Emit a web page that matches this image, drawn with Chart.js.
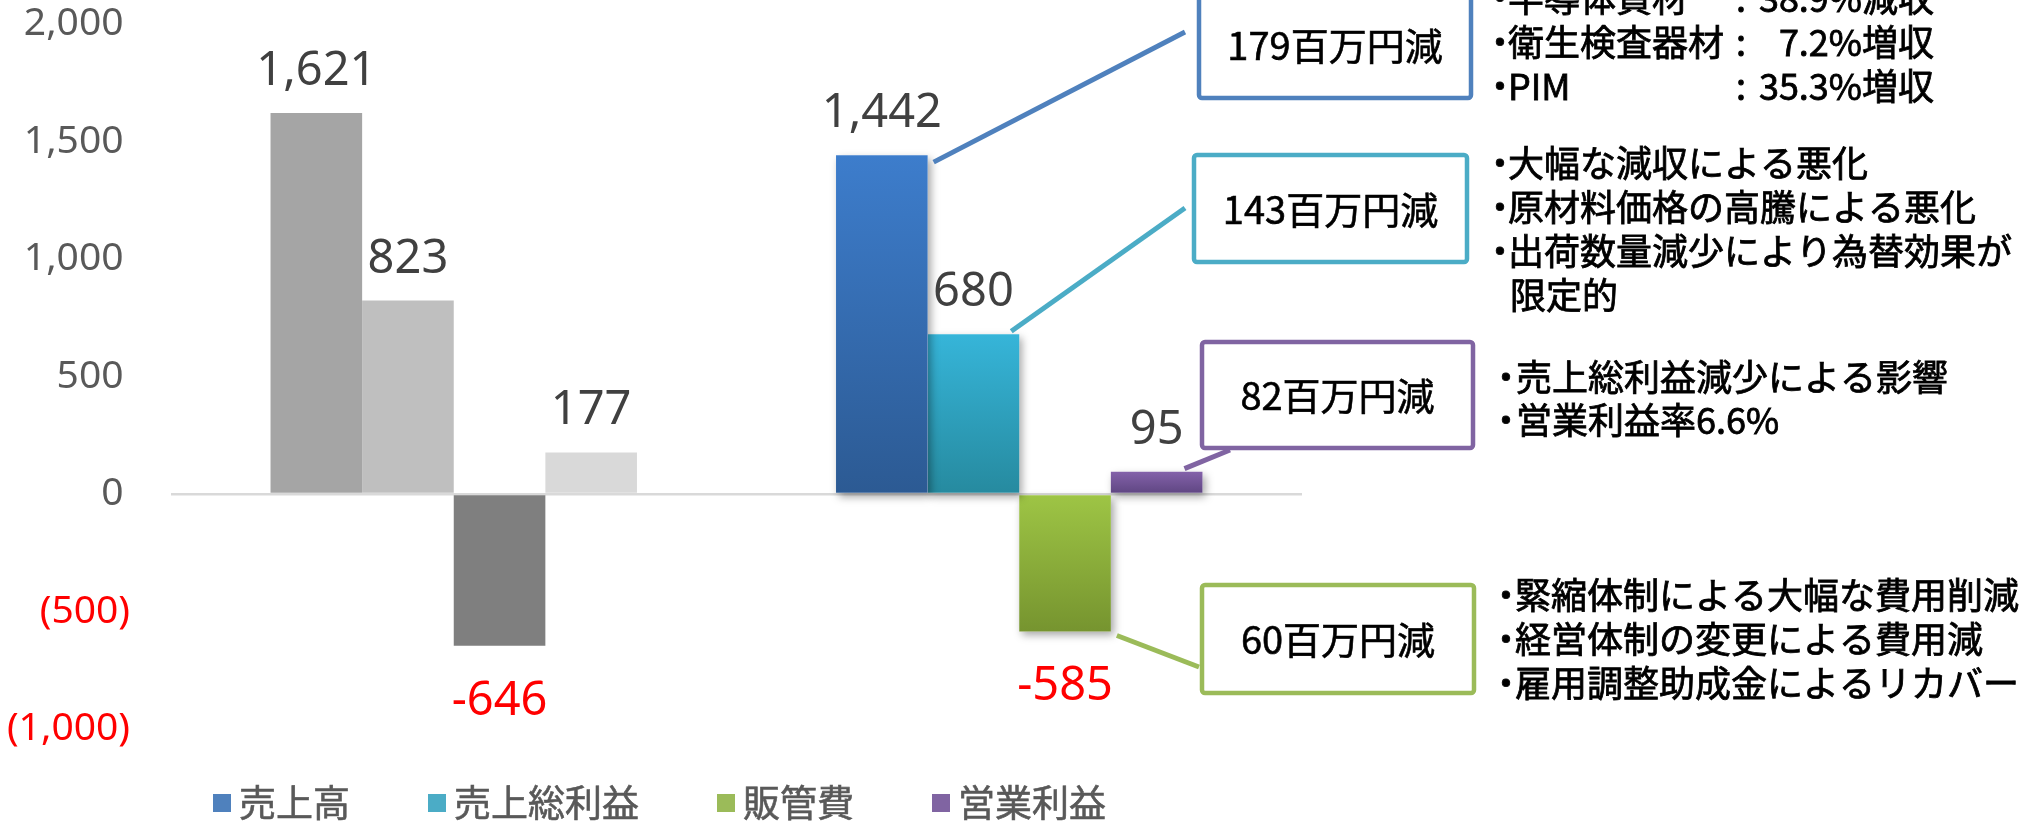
<!DOCTYPE html>
<html>
<head>
<meta charset="utf-8">
<script src="https://cdn.jsdelivr.net/npm/chart.js@4.4.1/dist/chart.umd.min.js"></script>
<style>
html, body { margin: 0; padding: 0; background: #fff; }
</style>
</head>
<body>
<canvas id="myChart" width="2029" height="822"></canvas>
<script>
// データ（百万円）
let categories = ['前期', '当期'];
let seriesNames = ['売上高', '売上総利益', '販管費', '営業利益'];
let sales = [1621, 1442];
let grossProfit = [823, 680];
let sga = [-646, -585];
let operatingProfit = [177, 95];
let yTicks = [-1000, -500, 0, 500, 1000, 1500, 2000];

// 増減の注記（系列順）
let diffLabels = ['179百万円減', '143百万円減', '60百万円減', '82百万円減'];
let salesNotes = [['半導体資材', '38.9%減収'], ['衛生検査器材', '7.2%増収'], ['PIM', '35.3%増収']];
let grossNotes = ['大幅な減収による悪化', '原材料価格の高騰による悪化', '出荷数量減少により為替効果が', '限定的'];
let opNotes = ['売上総利益減少による影響', '営業利益率6.6%'];
let sgaNotes = ['緊縮体制による大幅な費用削減', '経営体制の変更による費用減', '雇用調整助成金によるリカバー'];

// 色
let seriesColors = ['#4F81BD', '#4BACC6', '#9BBB59', '#8064A2'];
let priorColors = ['#A5A5A5', '#BFBFBF', '#7F7F7F', '#D9D9D9'];
let gradTop = ['#3D7DCC', '#36B5D9', '#9EC545', '#8462AA'];
let gradBottom = ['#2C5A93', '#268A9F', '#76942F', '#5E4581'];

const NUM_FONT = '"Noto Sans", "DejaVu Sans", sans-serif';
const JP_FONT = '"Noto Sans CJK JP", "Noto Sans", sans-serif';

function fmt(v){
    return Math.abs(v).toLocaleString('en-US');
}

function barColor(i){
    return function(context){
        if(context.dataIndex === 0) return priorColors[i];
        let chart = context.chart;
        let y = chart.scales.y;
        if(!y || !chart.chartArea) return seriesColors[i];
        let p0 = y.getPixelForValue(0);
        let p1 = y.getPixelForValue(context.raw);
        let g = chart.ctx.createLinearGradient(0, Math.min(p0, p1), 0, Math.max(p0, p1));
        g.addColorStop(0, gradTop[i]);
        g.addColorStop(1, gradBottom[i]);
        return g;
    };
}

let seriesData = [sales, grossProfit, sga, operatingProfit];

let data = {
    labels: categories,
    datasets: seriesData.map(function(arr, i){
        return {
            label: seriesNames[i],
            data: arr,
            backgroundColor: barColor(i),
            borderWidth: 0,
            categoryPercentage: 0.648,
            barPercentage: 1.0
        };
    })
};

// 注記ボックスの位置（系列順）
let boxes = [
    {x: 1197, y: -11, w: 276, h: 111},
    {x: 1192, y: 153, w: 277, h: 111},
    {x: 1200, y: 583, w: 276, h: 112},
    {x: 1200, y: 340, w: 275, h: 110}
];

// 文字を少し太く見せる
function boldText(ctx, t, x, y){
    ctx.fillText(t, x, y);
    ctx.strokeText(t, x, y);
}

const annotate = {
    id: 'annotate',
    beforeDatasetDraw(chart, args){
        // 当期の棒にだけ薄い影
        let ctx = chart.ctx;
        let bar = args.meta.data[1];
        if(!bar) return;
        let top = Math.min(bar.y, bar.base);
        let h = Math.abs(bar.base - bar.y);
        ctx.save();
        ctx.shadowColor = 'rgba(0,0,0,0.35)';
        ctx.shadowBlur = 8;
        ctx.shadowOffsetX = 3;
        ctx.shadowOffsetY = 4;
        ctx.fillStyle = '#ffffff';
        ctx.fillRect(bar.x - bar.width / 2, top, bar.width, h);
        ctx.restore();
    },
    afterDatasetsDraw(chart){
        let ctx = chart.ctx;
        // 数値ラベル
        chart.data.datasets.forEach(function(ds, i){
            chart.getDatasetMeta(i).data.forEach(function(bar, j){
                let v = ds.data[j];
                ctx.save();
                ctx.font = '47px ' + NUM_FONT;
                ctx.textAlign = 'center';
                ctx.textBaseline = 'alphabetic';
                if(v >= 0){
                    ctx.fillStyle = '#404040';
                    ctx.fillText(fmt(v), bar.x, bar.y - 28);
                } else {
                    ctx.fillStyle = '#FF0000';
                    ctx.fillText('-' + fmt(v), bar.x, bar.y + 69);
                }
                ctx.restore();
            });
        });

        // 引き出し線
        let b = function(i){ return chart.getDatasetMeta(i).data[1]; };
        let lines = [
            [b(0).x + b(0).width / 2 + 6, b(0).y + 7, 1185, 32, seriesColors[0]],
            [b(1).x + b(1).width / 2 - 8, b(1).y - 3, 1185, 208, seriesColors[1]],
            [b(2).x + b(2).width / 2 + 6, b(2).y + 4, 1199, 667, seriesColors[2]],
            [b(3).x + b(3).width / 2 - 18, b(3).y - 3, 1230, 450, seriesColors[3]]
        ];
        ctx.save();
        ctx.lineWidth = 5;
        lines.forEach(function(l){
            ctx.strokeStyle = l[4];
            ctx.beginPath();
            ctx.moveTo(l[0], l[1]);
            ctx.lineTo(l[2], l[3]);
            ctx.stroke();
        });
        ctx.restore();

        // ボックス
        ctx.save();
        ctx.font = '38px ' + JP_FONT;
        ctx.textAlign = 'center';
        ctx.textBaseline = 'middle';
        boxes.forEach(function(bx, i){
            ctx.lineWidth = 4.5;
            ctx.strokeStyle = seriesColors[i];
            ctx.fillStyle = '#FFFFFF';
            ctx.beginPath();
            ctx.roundRect(bx.x + 2, bx.y + 2, bx.w - 4, bx.h - 4, 3);
            ctx.fill();
            ctx.stroke();
            ctx.fillStyle = '#000000';
            ctx.strokeStyle = '#000000';
            ctx.lineWidth = 0.6;
            boldText(ctx, diffLabels[i], bx.x + bx.w / 2, bx.y + bx.h / 2 + 1);
        });
        ctx.restore();

        // 説明文
        ctx.save();
        ctx.font = '36px ' + JP_FONT;
        ctx.fillStyle = '#000000';
        ctx.strokeStyle = '#000000';
        ctx.lineWidth = 0.8;
        ctx.textBaseline = 'middle';
        let bullet = function(x, y){
            ctx.textAlign = 'center';
            boldText(ctx, '・', x, y);
            ctx.textAlign = 'left';
        };
        salesNotes.forEach(function(row, k){
            let y = -2 + k * 44;
            bullet(1500, y);
            boldText(ctx, row[0], 1508, y);
            boldText(ctx, ':', 1736, y);
            ctx.textAlign = 'right';
            boldText(ctx, row[1], 1934, y);
            ctx.textAlign = 'left';
        });
        grossNotes.forEach(function(t, k){
            let y = 163 + k * 44;
            if(k < 3){
                bullet(1500, y);
                boldText(ctx, t, 1508, y);
            } else {
                boldText(ctx, t, 1510, y);
            }
        });
        opNotes.forEach(function(t, k){
            let y = 377 + k * 43;
            bullet(1506, y);
            boldText(ctx, t, 1516, y);
        });
        sgaNotes.forEach(function(t, k){
            let y = 595 + k * 44;
            bullet(1506, y);
            boldText(ctx, t, 1515, y);
        });
        ctx.restore();
    },
    afterDraw(chart){
        // 凡例
        let ctx = chart.ctx;
        ctx.save();
        ctx.font = '37px ' + JP_FONT;
        ctx.textBaseline = 'middle';
        ctx.textAlign = 'left';
        ctx.lineWidth = 0.6;
        let x = 213;
        let y = 803;
        seriesNames.forEach(function(name, i){
            ctx.fillStyle = seriesColors[i];
            ctx.fillRect(x, y - 9, 18, 18);
            x += 26;
            ctx.fillStyle = '#595959';
            ctx.strokeStyle = '#595959';
            boldText(ctx, name, x, y);
            x += ctx.measureText(name).width + 78;
        });
        ctx.restore();
    }
};

let config = {
    type: 'bar',
    data: data,
    options: {
        responsive: false,
        animation: false,
        devicePixelRatio: 1,
        layout: {padding: {left: 0, right: 727, top: 24, bottom: 93}},
        plugins: {
            legend: {display: false},
            tooltip: {enabled: false}
        },
        scales: {
            x: {display: false},
            y: {
                min: -1000,
                max: 2000,
                afterFit: function(scale){
                    scale.width = 171;
                    scale.paddingTop = 0;
                    scale.paddingBottom = 0;
                },
                afterBuildTicks: function(scale){
                    scale.ticks = yTicks.map(function(v){ return {value: v}; });
                },
                border: {display: false},
                grid: {
                    drawTicks: false,
                    lineWidth: 2.5,
                    color: function(context){
                        return context.tick && context.tick.value === 0 ? '#D9D9D9' : 'rgba(0,0,0,0)';
                    }
                },
                ticks: {
                    padding: 41,
                    font: {size: 39, family: NUM_FONT},
                    color: function(context){
                        return context.tick && context.tick.value < 0 ? '#FF0000' : '#595959';
                    },
                    callback: function(v){
                        return v < 0 ? '(' + fmt(v) + ')' : fmt(v) + '\u2009';
                    }
                }
            }
        }
    },
    plugins: [annotate]
};

let myChart = new Chart(document.getElementById('myChart'), config);
</script>
</body>
</html>
